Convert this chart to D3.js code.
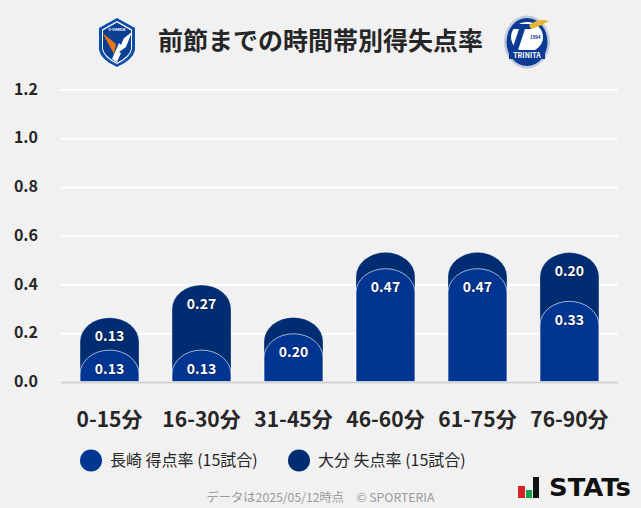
<!DOCTYPE html>
<html>
<head>
<meta charset="utf-8">
<script src="https://cdn.jsdelivr.net/npm/d3@7"></script>
<style>
  html, body { margin: 0; padding: 0; background: #f1f1f1; overflow: hidden; }
  text { font-family: "Noto Sans CJK JP", "Noto Sans", sans-serif; }
</style>
</head>
<body>
<svg id="chart" width="641" height="508"></svg>
<script>
// values (goals per 15 games, so thirds of 0.2)
var categories = ["0-15分", "16-30分", "31-45分", "46-60分", "61-75分", "76-90分"];
var homeValues = [0.133, 0.133, 0.2, 0.467, 0.467, 0.333];
var awayValues = [0.133, 0.267, 0.067, 0.067, 0.067, 0.2];
var yTicks = [0, 0.2, 0.4, 0.6, 0.8, 1.0, 1.2];
var legendLabels = ["長崎 得点率 (15試合)", "大分 失点率 (15試合)"];
var titleText = "前節までの時間帯別得失点率";
var footerText = "データは2025/05/12時点\u3000© SPORTERIA";

var homeColor = "#003592";
var awayColor = "#002d72";

var svg = d3.select("#chart");

var x = d3.scaleBand().domain(categories).range([63.5, 615.5]).paddingInner(0.359).paddingOuter(0.18);
var y = d3.scaleLinear().domain([0, 1.2]).range([382.5, 90]);

// title
svg.append("text").attr("x", 320.5).attr("y", 50).attr("text-anchor", "middle")
  .attr("font-size", 25).attr("font-weight", 700).attr("fill", "#262626").text(titleText);

// y axis + white gridlines
var yAxis = d3.axisLeft(y).tickValues(yTicks).tickFormat(d3.format(".1f")).tickSize(0).tickPadding(0);
var yg = svg.append("g").attr("transform", "translate(38,-1)").call(yAxis);
yg.select(".domain").remove();
yg.selectAll("text").attr("font-size", 16).attr("font-weight", 700).attr("fill", "#262626")
  .style("font-family", '"Noto Sans CJK JP"');

svg.append("g").selectAll("line").data(yTicks.filter(d => d > 0)).join("line")
  .attr("x1", 61).attr("x2", 618)
  .attr("y1", d => y(d)).attr("y2", d => y(d))
  .attr("stroke", "#fff").attr("stroke-width", 2);

// bar with rounded (elliptical) top, bottom on the baseline
function barPath(cat, top) {
  var l = x(cat), w = x.bandwidth(), rx = w / 2, ry = 24;
  var t = y(top), b = y(0) - 1;
  return "M" + l + "," + b + "V" + (t + ry) +
    "A" + rx + "," + ry + " 0 0 1 " + (l + w) + "," + (t + ry) +
    "V" + b + "Z";
}

svg.append("g").selectAll("path").data(categories).join("path")
  .attr("d", (c, i) => barPath(c, homeValues[i] + awayValues[i]))
  .attr("fill", awayColor)
  .attr("stroke", "rgba(255,255,255,0.35)").attr("stroke-width", 0.8);

svg.append("g").selectAll("path").data(categories).join("path")
  .attr("d", (c, i) => barPath(c, homeValues[i]))
  .attr("fill", homeColor)
  .attr("stroke", "rgba(255,255,255,0.7)").attr("stroke-width", 0.9);

// baseline
svg.append("line").attr("x1", 61).attr("x2", 618).attr("y1", y(0)).attr("y2", y(0))
  .attr("stroke", "#d4d4d4").attr("stroke-width", 2);

// value labels, small segments stay unlabelled
function addLabels(values, yOf) {
  svg.append("g").selectAll("text").data(categories).join("text")
    .filter((c, i) => values[i] >= 0.1)
    .attr("x", c => x(c) + x.bandwidth() / 2)
    .attr("y", c => yOf(categories.indexOf(c)))
    .attr("text-anchor", "middle").attr("font-size", 14).attr("font-weight", 700)
    .attr("fill", "#fff").style("text-shadow", "0 0 2px rgba(0,0,0,0.6)")
    .text(c => values[categories.indexOf(c)].toFixed(2));
}
addLabels(homeValues, i => y(homeValues[i]) + 23.5);
addLabels(awayValues, i => y(homeValues[i] + awayValues[i]) + 23.5);

// x axis labels
var xAxis = d3.axisBottom(x).tickSize(0).tickPadding(0);
var xg = svg.append("g").attr("transform", "translate(0,412)").call(xAxis);
xg.select(".domain").remove();
xg.selectAll("text").attr("font-size", 21).attr("font-weight", 700).attr("fill", "#262626")
  .style("font-family", '"Noto Sans CJK JP"');

// legend
var legendX = [91, 299];
[homeColor, awayColor].forEach(function (col, i) {
  svg.append("circle").attr("cx", legendX[i]).attr("cy", 460.5).attr("r", 11).attr("fill", col);
  svg.append("text").attr("x", legendX[i] + 19).attr("y", 466)
    .attr("font-size", 16).attr("fill", "#262626").text(legendLabels[i]);
});

// footer
svg.append("text").attr("x", 320.5).attr("y", 502).attr("text-anchor", "middle")
  .attr("font-size", 12.25).attr("fill", "#9a9a9a").text(footerText);

// STATS mark
var stats = svg.append("g");
stats.append("rect").attr("x", 518).attr("y", 486).attr("width", 7).attr("height", 12).attr("fill", "#d9202a");
stats.append("rect").attr("x", 526).attr("y", 490).attr("width", 6).attr("height", 8).attr("fill", "#12a04a");
stats.append("rect").attr("x", 533).attr("y", 477).attr("width", 6).attr("height", 21).attr("fill", "#111");
stats.append("text").attr("x", 549).attr("y", 496).attr("font-size", 24).attr("font-weight", 700)
  .attr("fill", "#111").attr("textLength", 82).attr("lengthAdjust", "spacingAndGlyphs")
  .style("font-family", '"DejaVu Sans"').text("STATs");

// Nagasaki crest
var crest = svg.append("g").attr("transform", "translate(99,18)");
crest.append("path").attr("d", "M18,0 L36,10 L36,32 Q34,42 18,49 Q2,42 0,32 L0,10 Z").attr("fill", "#0d4ea6");
crest.append("path").attr("d", "M18,3 L33,11.5 L33,31 Q31,40 18,46 Q5,40 3,31 L3,11.5 Z").attr("fill", "#fff");
crest.append("path").attr("d", "M18,4.5 L32,12.5 L32,31 Q30,39 18,44.5 Q6,39 4,31 L4,12.5 Z").attr("fill", "#0a3f93");
crest.append("path").attr("d", "M3.5,15 L17,26 L15,36 Z").attr("fill", "#ee7414");
crest.append("path").attr("d", "M33,14 L25,20 L22,27 L20,25 L13,41 L18,44 L22,35 L20,34 L27,29 Z").attr("fill", "#fff");
crest.append("text").attr("x", 18).attr("y", 13).attr("text-anchor", "middle")
  .attr("font-size", 4).attr("font-weight", 700).attr("fill", "#fff").text("V-VAREN");

// Oita crest
var oita = svg.append("g").attr("transform", "translate(527,42)");
oita.append("ellipse").attr("rx", 23).attr("ry", 26.5).attr("fill", "#c3cbdc");
oita.append("ellipse").attr("rx", 20.5).attr("ry", 24).attr("fill", "#0a3a94");
oita.append("ellipse").attr("cy", -5).attr("rx", 16).attr("ry", 15).attr("fill", "#fff");
oita.append("path").attr("d", "M-13,-18 L7,-18 L4,-13 L-2,-13 L-9,8 L-15,8 L-8,-13 L-15,-13 Z").attr("fill", "#0a3a94");
oita.append("path").attr("d", "M2,-17 Q12,-24 22,-21 Q14,-16 4,-13 Z").attr("fill", "#e5b732");
oita.append("rect").attr("x", -18).attr("y", 8).attr("width", 36).attr("height", 9).attr("fill", "#0a3a94");
oita.append("text").attr("y", 15.5).attr("text-anchor", "middle").attr("font-size", 7)
  .attr("font-weight", 700).attr("fill", "#fff").text("TRINITA");
oita.append("text").attr("x", 3).attr("y", -3).attr("font-size", 4.5).attr("font-weight", 700)
  .attr("fill", "#0a3a94").text("1994");
</script>
</body>
</html>
